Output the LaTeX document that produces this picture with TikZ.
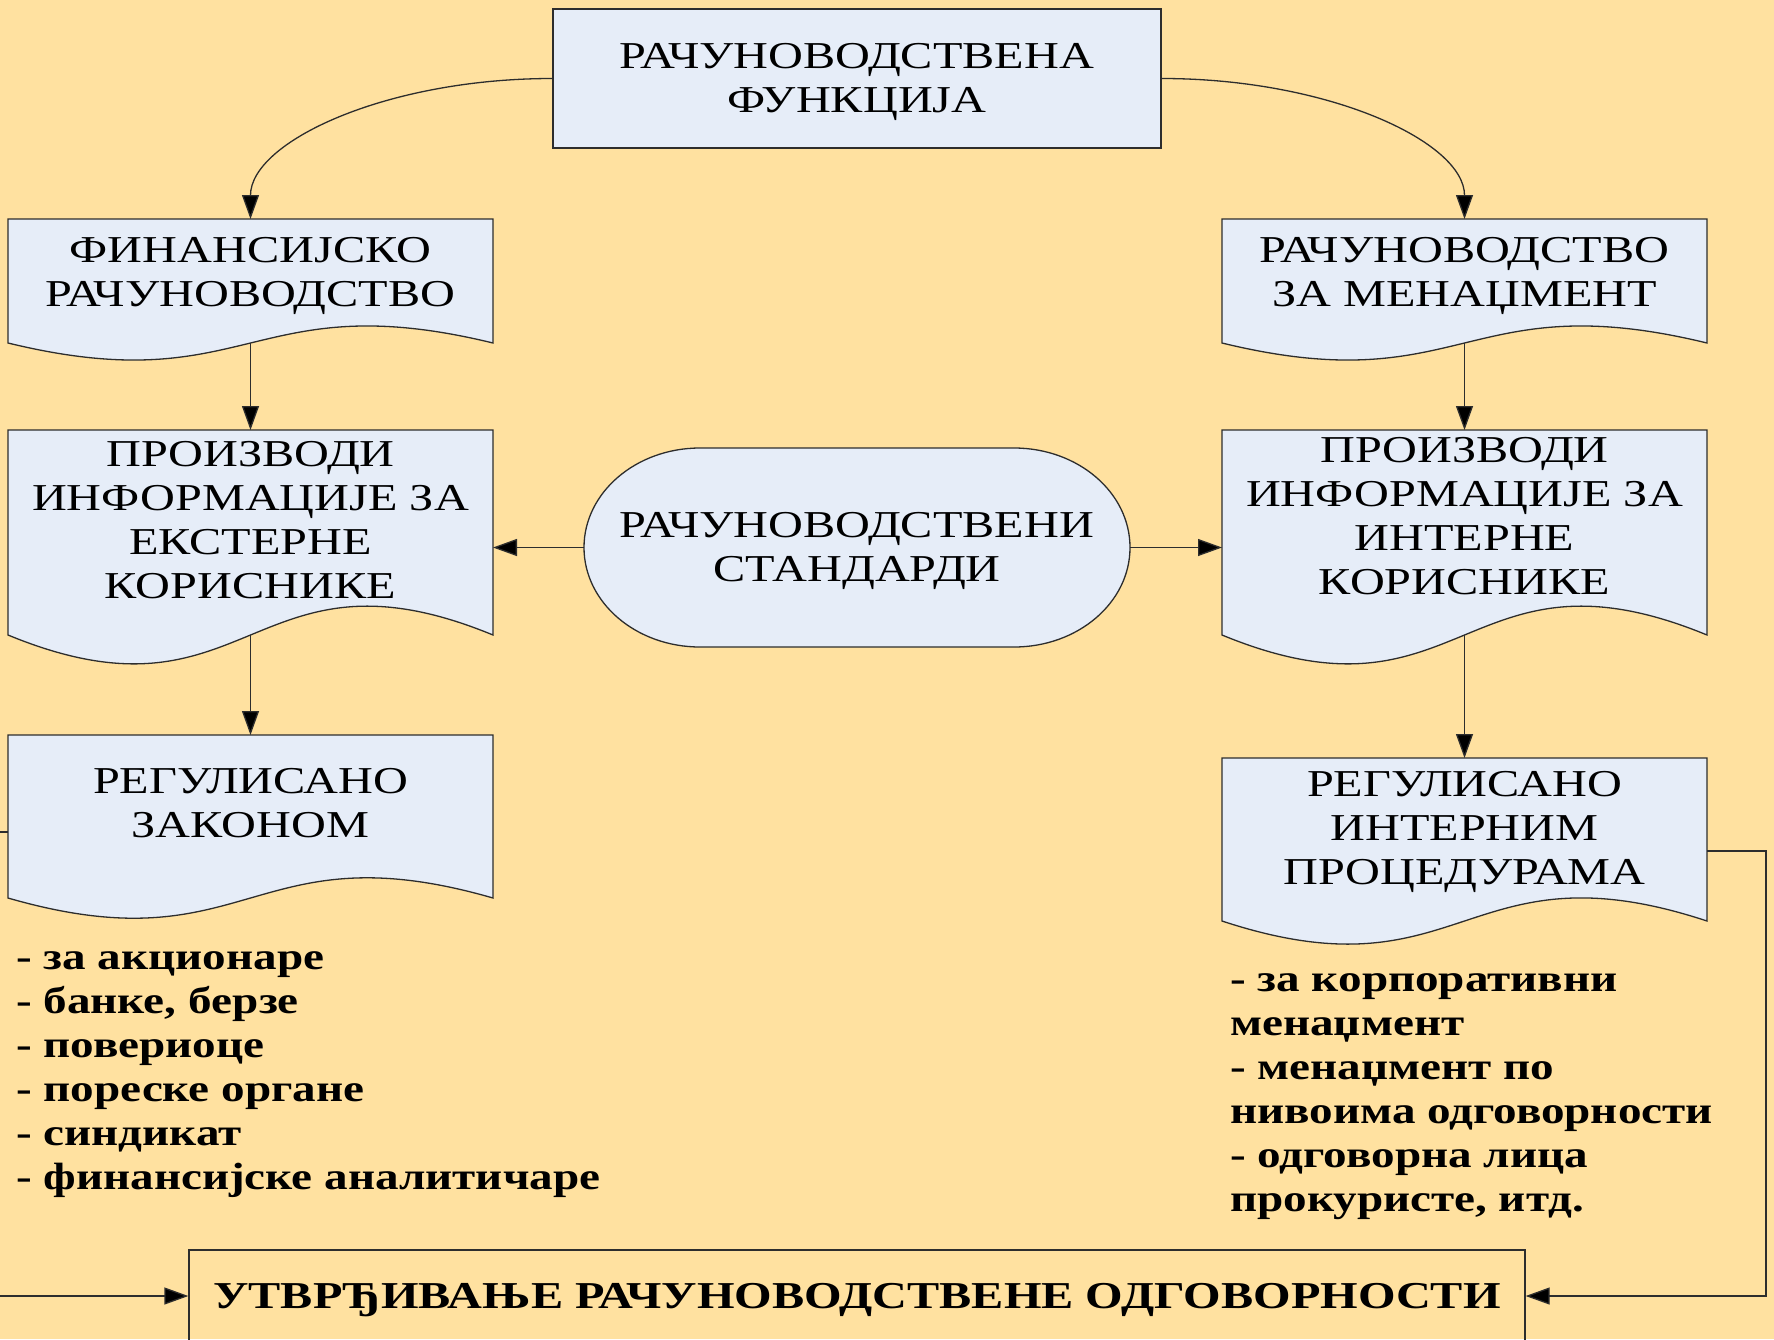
\documentclass[tikz,border=0pt]{standalone}
\usepackage{fontspec}
\setmainfont{Liberation Serif}[FakeStretch=1.27]
\newfontfamily\listfont{Liberation Serif}[FakeStretch=1.24]
\usetikzlibrary{arrows.meta,calc}
\definecolor{bgc}{RGB}{255,225,160}
\definecolor{boxc}{RGB}{230,237,248}
\definecolor{linec}{RGB}{45,45,45}
\tikzset{
  boxline/.style={draw=linec,line width=1.3pt,fill=boxc},
  anch/.style={draw=none,fill=none,inner sep=0pt,outer sep=0pt},
  btext/.style={align=center,inner sep=0pt,font=\fontsize{38}{44}\selectfont},
  ltext/.style={align=left,inner sep=0pt,font=\fontsize{38}{44}\selectfont\listfont\bfseries},
  conn/.style={draw=linec,line width=1.3pt,-{Triangle[length=24pt,width=17pt,fill=black]}},
  plain/.style={draw=linec,line width=1.3pt}
}
\newcommand\docpath[2]{%
  \path[boxline] (#1.north west) -- (#1.north east) -- (#1.south east)
    .. controls ($(#1.south)+(0,-#2)$) and ($(#1.south)+(0,#2)$) .. (#1.south west) -- cycle;}
\begin{document}
\begin{tikzpicture}[x=1pt,y=-1pt]
\useasboundingbox (0,0) rectangle (1774,1339);
\fill[bgc] (0,0) rectangle (1774,1339);
\begin{scope}
\clip (0,0) rectangle (1774,1339);
% top box
\node[boxline,minimum width=608pt,minimum height=139pt,inner sep=0pt] (T) at (857,78.5) {};
\node[btext] (Tt) at (857,82) {РАЧУНОВОДСТВЕНА\\ФУНКЦИЈА};
% left column
\node[anch,minimum width=485pt,minimum height=124pt] (L1) at (250.5,281) {};
\docpath{L1}{59}
\node[btext] (L1t) at (250.5,276) {ФИНАНСИЈСКО\\РАЧУНОВОДСТВО};
\node[anch,minimum width=485pt,minimum height=205pt] (L2) at (250.5,532.5) {};
\docpath{L2}{100}
\node[btext] (L2t) at (250.5,520) {ПРОИЗВОДИ\\ИНФОРМАЦИЈЕ ЗА\\ЕКСТЕРНЕ\\КОРИСНИКЕ};
\node[anch,minimum width=485pt,minimum height=163pt] (L3) at (250.5,816.5) {};
\docpath{L3}{70}
\node[btext] (L3t) at (250.5,803) {РЕГУЛИСАНО\\ЗАКОНОМ};
% right column
\node[anch,minimum width=485pt,minimum height=124pt] (R1) at (1464.5,281) {};
\docpath{R1}{59}
\node[btext] (R1t) at (1464.5,276) {РАЧУНОВОДСТВО\\ЗА МЕНАЏМЕНТ};
\node[anch,minimum width=485pt,minimum height=205pt] (R2) at (1464.5,532.5) {};
\docpath{R2}{100}
\node[btext] (R2t) at (1464.5,516) {ПРОИЗВОДИ\\ИНФОРМАЦИЈЕ ЗА\\ИНТЕРНЕ\\КОРИСНИКЕ};
\node[anch,minimum width=485pt,minimum height=163pt] (R3) at (1464.5,839.5) {};
\docpath{R3}{80}
\node[btext] (R3t) at (1464.5,832) {РЕГУЛИСАНО\\ИНТЕРНИМ\\ПРОЦЕДУРАМА};
% standards
\node[anch,minimum width=546pt,minimum height=199pt] (S) at (857,547.5) {};
\path[boxline] (700,448) -- (1014,448)
  .. controls (1078,448) and (1130,492.5) .. (1130,547.5)
  .. controls (1130,602.5) and (1078,647) .. (1014,647)
  -- (700,647)
  .. controls (636,647) and (584,602.5) .. (584,547.5)
  .. controls (584,492.5) and (636,448) .. (700,448) -- cycle;
\node[btext] (St) at (857,551) {РАЧУНОВОДСТВЕНИ\\СТАНДАРДИ};
% bottom box
\node[draw=linec,line width=1.3pt,minimum width=1336pt,minimum height=92pt,inner sep=0pt] (B) at (857,1296) {};
\node[btext,font=\fontsize{38}{44}\selectfont\bfseries] (Bt) at (857,1300) {УТВРЂИВАЊЕ РАЧУНОВОДСТВЕНЕ ОДГОВОРНОСТИ};
% lists
\node[ltext,anchor=west] (LL) at (16,1075) {- за акционаре\\- банке, берзе\\- повериоце\\- пореске органе\\- синдикат\\- финансијске аналитичаре};
\node[ltext,anchor=west] (RL) at (1230,1097) {- за корпоративни\\менаџмент\\- менаџмент по\\нивоима одговорности\\- одговорна лица\\прокуристе, итд.};
% connectors
\draw[conn] (T.west) .. controls +(-167,0) and +(0,-77) .. (L1.north);
\draw[conn] (T.east) .. controls +(167,0) and +(0,-77) .. (R1.north);
\draw[conn] (L1.south) -- (L2.north);
\draw[conn] (L2.south) -- (L3.north);
\draw[conn] (R1.south) -- (R2.north);
\draw[conn] (R2.south) -- (R3.north);
\draw[conn] (S.west) -- (L2.east |- S.west);
\draw[conn] (S.east) -- (R2.west |- S.east);
\draw[conn] ([yshift=-15.5pt]L3.west) -- ++(-40,0) |- (B.west);
\draw[conn] ([yshift=-11.5pt]R3.east) -- ++(59,0) |- (B.east);
\end{scope}
\end{tikzpicture}
\end{document}
